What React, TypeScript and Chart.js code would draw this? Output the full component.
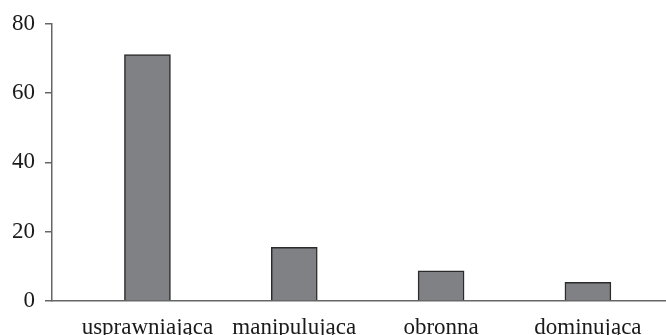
import React, { useEffect, useRef } from "react";
import { Chart, registerables } from "chart.js";

Chart.register(...registerables);

const categories = ["usprawniająca", "manipulująca", "obronna", "dominująca"];
const values = [71.1, 15.5, 8.7, 5.4];
const yTicks = [0, 20, 40, 60, 80];

export default function App() {
  const ref = useRef<HTMLCanvasElement>(null);
  useEffect(() => {
    document.body.style.margin = "0";
    const ctx = ref.current!.getContext("2d")!;
    const chart = new Chart(ctx, {
      type: "bar",
      data: {
        datasets: [
          {
            data: values.map((v, i) => ({ x: i, y: v })),
            backgroundColor: "#808184",
            borderColor: "#2b2b2b",
            borderWidth: 1.5,
            barThickness: 46,
          },
        ],
      },
      options: {
        animation: false,
        responsive: false,
        maintainAspectRatio: false,
        layout: { padding: { top: 21, right: 1, left: 0, bottom: 0 } },
        plugins: { legend: { display: false }, tooltip: { enabled: false } },
        scales: {
          x: {
            type: "linear",
            offset: false,
            min: -0.65,
            max: 3.525,
            afterFit: (axis: any) => {
              axis.height = 34;
            },
            afterBuildTicks: (axis: any) => {
              axis.ticks = categories.map((_, i) => ({ value: i }));
            },
            grid: { display: false, drawTicks: false },
            border: { display: true, color: "#666666", width: 1.5 },
            ticks: {
              padding: 13,
              color: "#1a1a1a",
              font: { family: "'Liberation Serif', 'Times New Roman', serif", size: 23 },
              callback: (v: any) => categories[Math.round(Number(v))] ?? "",
              maxRotation: 0,
              autoSkip: false,
            },
          },
          y: {
            min: 0,
            max: 80,
            afterFit: (axis: any) => {
              axis.width = 52;
            },
            afterBuildTicks: (axis: any) => {
              axis.ticks = yTicks.map((v) => ({ value: v }));
            },
            grid: { drawOnChartArea: false, drawTicks: true, tickLength: 7, color: "#666666", lineWidth: 1.5 },
            border: { display: true, color: "#666666", width: 1.5 },
            ticks: {
              padding: 10,
              color: "#1a1a1a",
              font: { family: "'Liberation Serif', 'Times New Roman', serif", size: 23 },
            },
          },
        },
      },
    });
    return () => chart.destroy();
  }, []);
  return (
    <div style={{ width: 666, height: 335 }}>
      <canvas ref={ref} width={666} height={335} style={{ display: "block" }} />
    </div>
  );
}
